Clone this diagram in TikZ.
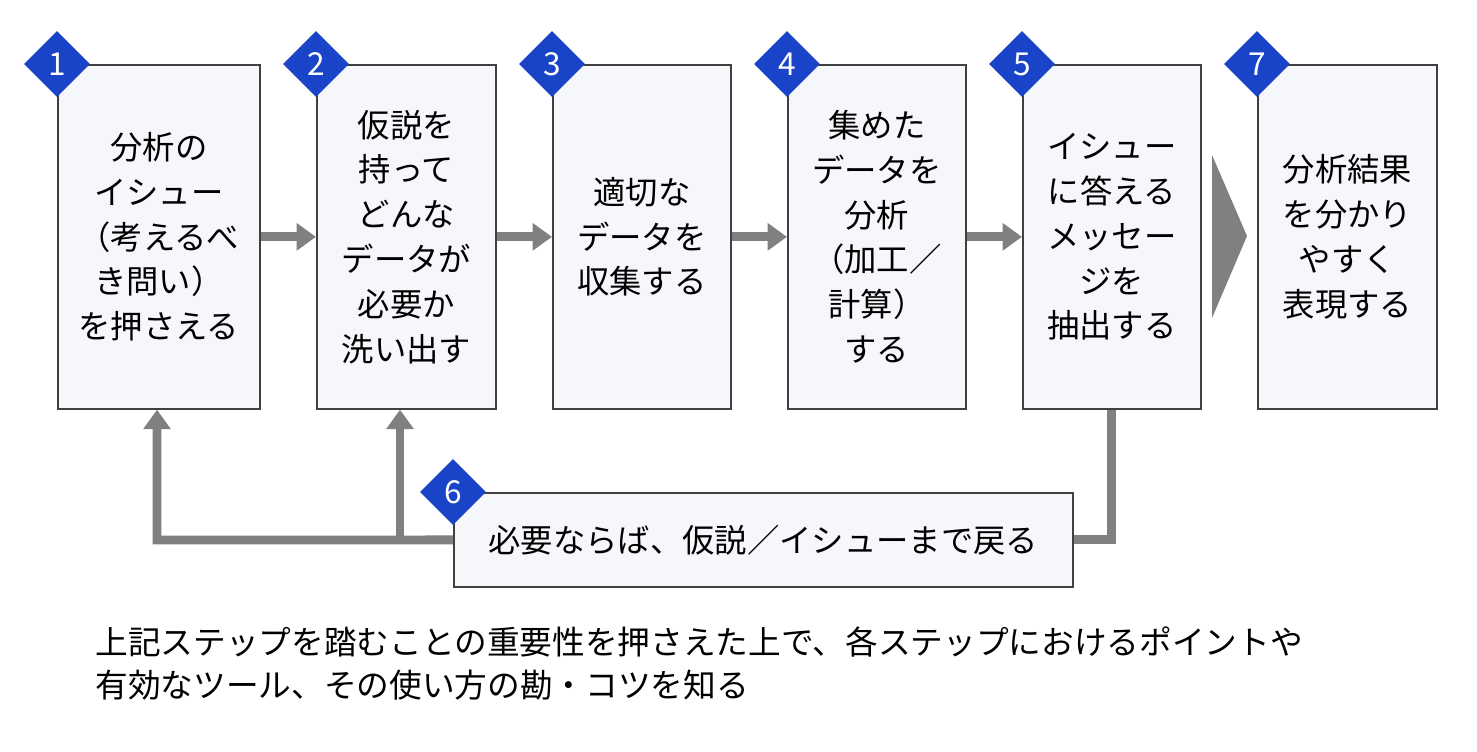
\documentclass[tikz,border=0pt]{standalone}
\usepackage{fontspec}
\setmainfont{Noto Sans CJK JP}
\usetikzlibrary{shapes.geometric,arrows.meta}
\definecolor{boxfill}{HTML}{F5F7FA}
\definecolor{badge}{HTML}{1A44C8}
\definecolor{flow}{HTML}{808080}
\tikzset{
  stepbox/.style={draw=black!75, fill=boxfill, line width=1pt, anchor=north west,
    align=center, font=\fontsize{18.4}{25.5}\selectfont, inner sep=0pt},
  numbadge/.style={diamond, fill=badge, text=white, minimum size=1.32cm, inner sep=0pt,
    font=\fontsize{18}{20}\selectfont},
  flowline/.style={flow, line width=5pt, -{Triangle[length=11pt,width=15pt]}}
}
\begin{document}
\begin{tikzpicture}[x=0.02cm,y=-0.02cm]
\useasboundingbox (0,0) rectangle (1477,751);
% steps
\node[stepbox, minimum width=4.04cm, minimum height=6.88cm] (s1) at (57,64) {分析の\\イシュー\\（考えるべ\\き問い）\\を押さえる};
\node[stepbox, minimum width=3.58cm, minimum height=6.88cm] (s2) at (316,64) {仮説を\\持って\\どんな\\データが\\必要か\\洗い出す};
\node[stepbox, minimum width=3.56cm, minimum height=6.88cm] (s3) at (552,64) {適切な\\データを\\収集する};
\node[stepbox, minimum width=3.56cm, minimum height=6.88cm] (s4) at (787,64) {集めた\\データを\\分析\\（加工／\\計算）\\する};
\node[stepbox, minimum width=3.56cm, minimum height=6.88cm] (s5) at (1022,64) {イシュー\\に答える\\メッセー\\ジを\\抽出する};
\node[stepbox, minimum width=3.58cm, minimum height=6.88cm] (s7) at (1257,64) {分析結果\\を分かり\\やすく\\表現する};
\node[stepbox, minimum width=12.38cm, minimum height=1.88cm] (s6) at (453,492) {必要ならば、仮説／イシューまで戻る};
% badges
\foreach \s/\n in {s1/1,s2/2,s3/3,s4/4,s5/5,s7/7,s6/6}
  \node[numbadge] (b\n) at (\s.north west) {\n};
% forward arrows
\draw[flowline] (s1.east) -- (s2.west);
\draw[flowline] (s2.east) -- (s3.west);
\draw[flowline] (s3.east) -- (s4.west);
\draw[flowline] (s4.east) -- (s5.west);
\fill[flow] (1212,155) -- (1247,236) -- (1212,318) -- cycle;
% feedback
\coordinate (fb) at (400,540);
\coordinate (fl) at (157,540);
\draw[flow, line width=5pt] (s5.south) |- (s6.east);
\draw[flowline] (s6.west) -- (fl) -- (s1.south -| fl);
\draw[flowline] (fb) -- (s2.south -| fb);
% note
\node[anchor=north west, align=left, font=\fontsize{18.6}{24.5}\selectfont, inner sep=0pt] (note) at (95,626)
  {上記ステップを踏むことの重要性を押さえた上で、各ステップにおけるポイントや\\有効なツール、その使い方の勘・コツを知る};
\end{tikzpicture}
\end{document}
